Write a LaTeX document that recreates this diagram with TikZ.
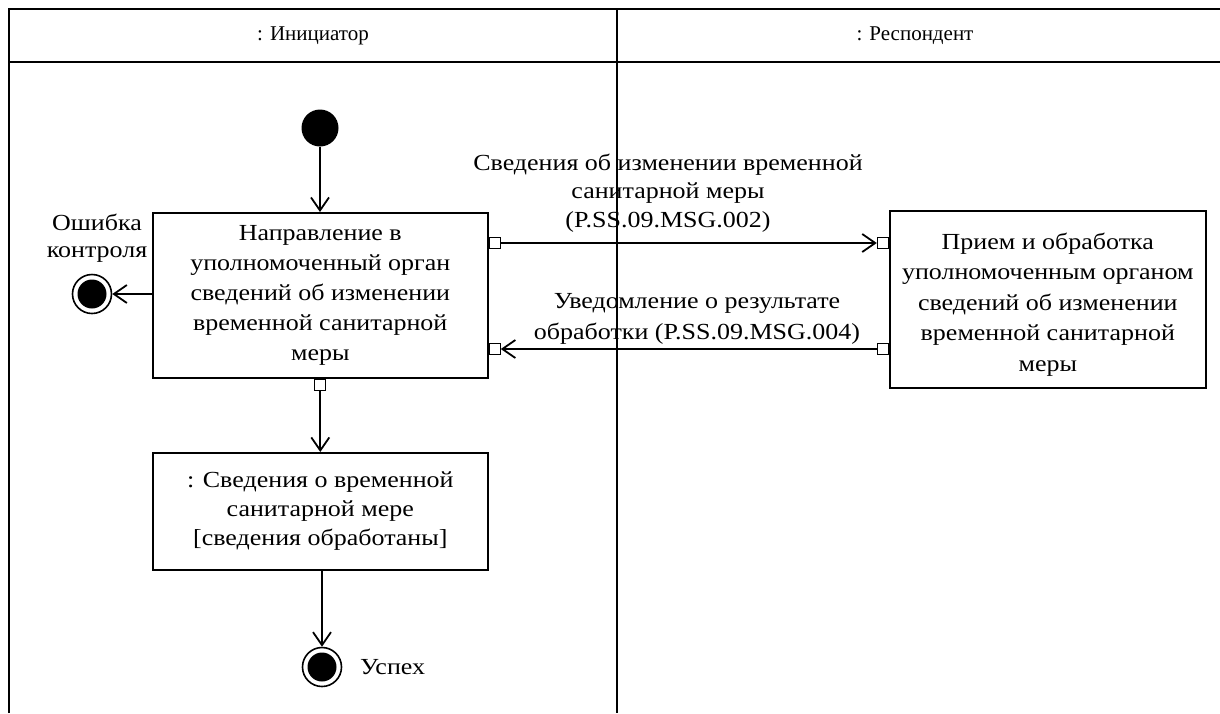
\documentclass[tikz,border=0pt]{standalone}
\usepackage{fontspec}
\setmainfont{Liberation Serif}
\newfontfamily\diagfont[FakeStretch=1.13]{Liberation Serif}
\usetikzlibrary{arrows.meta}
\begin{document}
\begin{tikzpicture}[x=1pt,y=-1pt,
  txt/.style={font=\diagfont\fontsize{23}{27}\selectfont, align=center, inner sep=0pt},
  head/.style={font=\fontsize{21}{25}\selectfont, inner sep=0pt},
  action/.style={draw, line width=1.6pt, fill=white, align=center,
    font=\diagfont\fontsize{23}{30}\selectfont, inner sep=0pt, anchor=north west},
  pin/.style={draw, line width=1.2pt, fill=white, minimum size=11pt, inner sep=0pt},
  flow/.style={line width=1.8pt, -{Straight Barb[length=13pt,width=18pt,line width=1.8pt]}},
  lane/.style={line width=2.4pt},
  startnode/.style={circle, fill=black, minimum size=37pt, inner sep=0pt},
  endnode/.style={circle, draw, line width=1.6pt, fill=white, minimum size=39pt, inner sep=0pt,
    path picture={\fill[black] (path picture bounding box.center) circle (14.5pt);}}]
\useasboundingbox (0,0) rectangle (1220,713);
% swimlane frame
\draw[lane] (9,713) -- (9,9) -- (1220,9);
\draw[lane] (9,62) -- (1220,62);
\draw[lane] (617,9) -- (617,713);
\node[head] (laneA) at (313,36) {: Инициатор};
\node[head] (laneB) at (915,36) {: Респондент};
% control nodes
\node[startnode] (start) at (320,128) {};
\node[endnode] (err) at (92,294) {};
\node[txt, anchor=south] (errlbl) at (97,263) {Ошибка\\контроля};
\node[endnode] (ok) at (322,667) {};
\node[txt, anchor=west] (oklbl) at (360,667) {Успех};
% actions
\node[action, minimum width=335pt, minimum height=165pt] (send) at (152,212)
  {Направление в\\уполномоченный орган\\сведений об изменении\\временной санитарной\\меры};
\node[action, minimum width=316pt, minimum height=177pt] (recv) at (889,210) {};
\node[txt, font=\diagfont\fontsize{23}{30.5}\selectfont] (recvtxt) at ([yshift=-5pt]recv.center)
  {Прием и обработка\\уполномоченным органом\\сведений об изменении\\временной санитарной\\меры};
\node[action, minimum width=335pt, minimum height=117pt, font=\diagfont\fontsize{23}{29}\selectfont] (obj) at (152,452)
  {: Сведения о временной\\санитарной мере\\[0pt][сведения обработаны]};
% pins
\node[pin, anchor=west] (p1) at ([yshift=-31pt]send.north east) {};
\node[pin, anchor=west] (p2) at ([yshift=-137pt]send.north east) {};
\node[pin, anchor=east] (q1) at ([yshift=-33pt]recv.north west) {};
\node[pin, anchor=east] (q2) at ([yshift=-139pt]recv.north west) {};
\node[pin, anchor=north] (p3) at (send.south) {};
% flows
\draw[flow] (start) -- (send.north -| start);
\draw[flow] (send.west |- err) -- (err);
\draw[flow] (p1) -- (q1);
\draw[flow] (q2) -- (p2);
\draw[flow] (p3) -- (obj.north -| p3);
\draw[flow] (obj.south -| ok) -- (ok);
% message labels
\node[txt, font=\diagfont\fontsize{23}{28.5}\selectfont] (m1) at (668,193) {Сведения об изменении временной\\санитарной меры\\(P.SS.09.MSG.002)};
\node[txt, font=\diagfont\fontsize{23}{31}\selectfont] (m2) at (697,319) {Уведомление о результате\\обработки (P.SS.09.MSG.004)};
\end{tikzpicture}
\end{document}
